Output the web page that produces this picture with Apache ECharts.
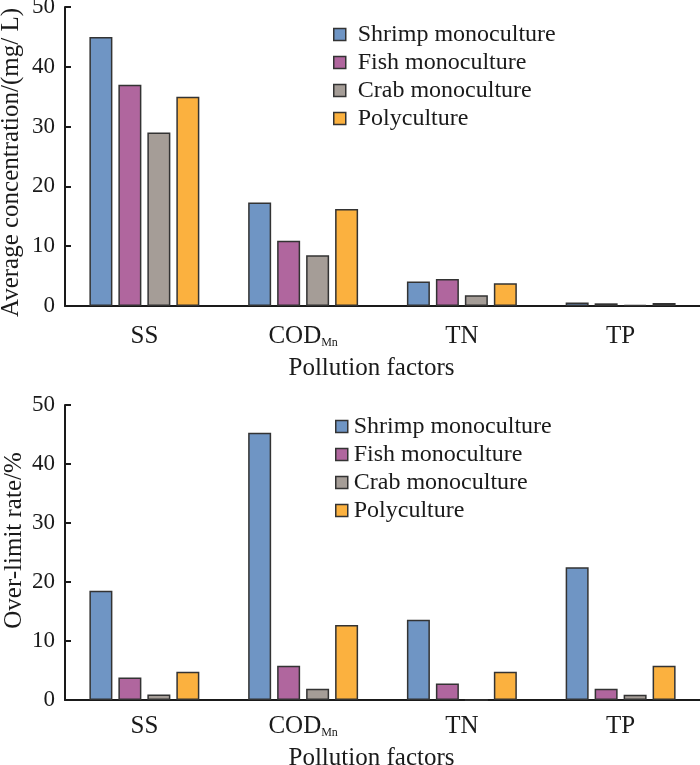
<!DOCTYPE html>
<html lang="en">
<head>
    <meta charset="UTF-8">
    <title>Pollution factors by culture mode</title>
    <script src="https://cdn.jsdelivr.net/npm/echarts@6/dist/echarts.min.js"></script>
    <style>
        html, body { margin: 0; padding: 0; background: #fff; }
        #main { width: 700px; height: 765px; }
    </style>
</head>
<body>
    <div id="main"></div>
    <script>
        // data
        var categories = ['SS', 'COD_Mn', 'TN', 'TP'];
        var seriesNames = ['Shrimp monoculture', 'Fish monoculture', 'Crab monoculture', 'Polyculture'];
        var colors = ['#6f95c4', '#b0669e', '#a59d97', '#fbb13f'];

        // top: average concentration (mg/L)
        var concShrimp = [45.0, 17.3, 4.1, 0.6];
        var concFish = [37.0, 10.9, 4.5, 0.45];
        var concCrab = [29.0, 8.5, 1.8, 0.2];
        var concPoly = [35.0, 16.2, 3.8, 0.5];

        // bottom: over-limit rate (%)
        var rateShrimp = [18.5, 45.3, 13.6, 22.5];
        var rateFish = [3.8, 5.8, 2.8, 1.9];
        var rateCrab = [0.95, 1.9, 0, 0.9];
        var ratePoly = [4.8, 12.7, 4.8, 5.8];

        var yTicks = [0, 10, 20, 30, 40, 50];

        var concData = [concShrimp, concFish, concCrab, concPoly];
        var rateData = [rateShrimp, rateFish, rateCrab, ratePoly];

        var font = 'Liberation Serif, Times New Roman, serif';
        var ink = '#1a1a1a';

        function catLabel(v) {
            if (v === 'COD_Mn') return '{a|COD}{s|Mn}';
            return '{a|' + v + '}';
        }

        function xAxisFor(gridIndex, labelMargin, nameGap) {
            return {
                type: 'category',
                gridIndex: gridIndex,
                data: categories,
                axisLine: { lineStyle: { color: ink, width: 2 } },
                axisTick: { show: false },
                axisLabel: {
                    margin: labelMargin,
                    formatter: catLabel,
                    rich: {
                        a: { fontSize: 25, fontFamily: font, color: ink },
                        s: { fontSize: 12, fontFamily: font, color: ink, verticalAlign: 'bottom' }
                    }
                },
                name: 'Pollution factors',
                nameLocation: 'middle',
                nameGap: nameGap,
                nameMoveOverlap: false,
                nameTextStyle: { fontSize: 25, fontFamily: font, color: ink, padding: [0, 22, 0, 0] }
            };
        }

        function yAxisFor(gridIndex, name, nameGap, namePad) {
            return {
                type: 'value',
                gridIndex: gridIndex,
                min: yTicks[0],
                max: yTicks[yTicks.length - 1],
                interval: 10,
                axisLine: { show: true, lineStyle: { color: ink, width: 2 } },
                axisTick: { show: true, inside: true, length: 6, lineStyle: { color: ink, width: 2 } },
                axisLabel: { fontSize: 23, fontFamily: font, color: ink, margin: 10 },
                splitLine: { show: false },
                name: name,
                nameLocation: 'middle',
                nameGap: nameGap,
                nameMoveOverlap: false,
                nameTextStyle: { fontSize: 25, fontFamily: font, color: ink, padding: namePad }
            };
        }

        function legendFor(left, top, textPad) {
            return {
                orient: 'vertical',
                left: left,
                top: top,
                padding: 0,
                icon: 'rect',
                itemWidth: 12,
                itemHeight: 12,
                itemGap: 3,
                data: seriesNames,
                itemStyle: { borderColor: '#333', borderWidth: 1.5 },
                textStyle: {
                    fontSize: 24,
                    fontFamily: font,
                    color: ink,
                    lineHeight: 25,
                    padding: [0, 0, 0, textPad]
                },
                selectedMode: false
            };
        }

        var series = [];
        seriesNames.forEach(function (name, i) {
            series.push({
                name: name,
                type: 'bar',
                xAxisIndex: 0,
                yAxisIndex: 0,
                barWidth: 23,
                barGap: '26%',
                itemStyle: { color: colors[i], borderColor: '#333', borderWidth: 1.5 },
                data: concData[i]
            });
        });
        seriesNames.forEach(function (name, i) {
            series.push({
                name: name,
                type: 'bar',
                xAxisIndex: 1,
                yAxisIndex: 1,
                barWidth: 23,
                barGap: '26%',
                itemStyle: { color: colors[i], borderColor: '#333', borderWidth: 1.5 },
                data: rateData[i]
            });
        });

        var chart = echarts.init(document.getElementById('main'));
        var option = {
            backgroundColor: '#fff',
            animation: false,
            color: colors,
            legend: [
                legendFor(333, 22, 7),
                legendFor(335, 414, 1)
            ],
            grid: [
                { left: 65, right: 0, top: 7, height: 299, outerBoundsMode: 'none' },
                { left: 65, right: 0, top: 405, height: 295, outerBoundsMode: 'none' }
            ],
            xAxis: [
                xAxisFor(0, 18, 50),
                xAxisFor(1, 14, 46)
            ],
            yAxis: [
                yAxisFor(0, 'Average concentration/(mg/ L)', 41, [0, 12, 0, 0]),
                yAxisFor(1, 'Over-limit rate/%', 38, [0, 0, 0, 24])
            ],
            series: series
        };
        chart.setOption(option);
        window.addEventListener('resize', function () {
            chart.resize();
        });
    </script>
</body>
</html>
